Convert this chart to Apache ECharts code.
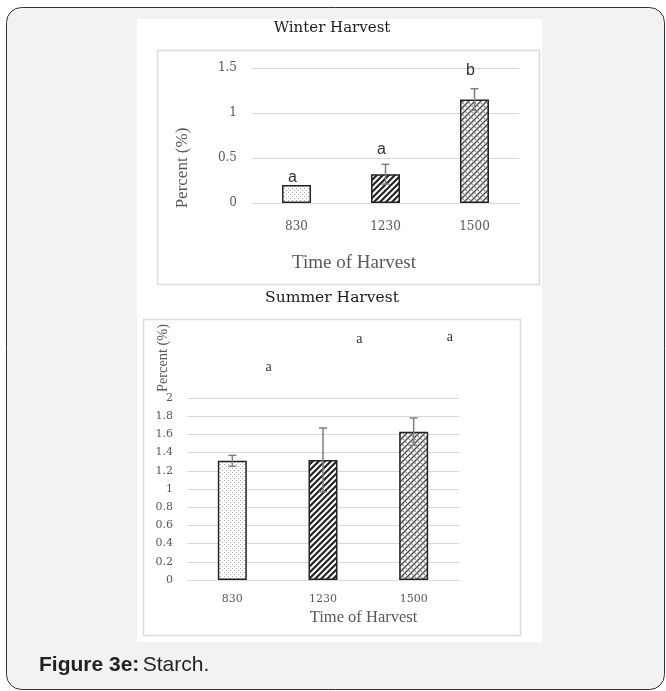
<!DOCTYPE html>
<html>
<head>
<meta charset="utf-8">
<script src="https://cdn.jsdelivr.net/npm/echarts@6/dist/echarts.min.js"></script>
<style>
html,body{margin:0;padding:0;background:#fff;}
#c{width:666px;height:691px;}
</style>
</head>
<body>
<div id="c"></div>
<script>
// ---- data ----
const categories = ['830', '1230', '1500'];
const winterValues = [0.20, 0.32, 1.15];
const winterErrors = [0, 0.11, 0.12];
const winterLetters = ['a', 'a', 'b'];
const winterLetterY = [0.28, 0.59, 1.47];
const winterTicks = [0, 0.5, 1, 1.5];

const summerValues = [1.31, 1.32, 1.63];
const summerErrors = [0.06, 0.35, 0.15];
const summerLetters = ['a', 'a', 'a'];
const summerLetterY = [2.34, 2.65, 2.67];
const summerTicks = [0, 0.2, 0.4, 0.6, 0.8, 1, 1.2, 1.4, 1.6, 1.8, 2];

// ---- patterns ----
function makeCanvas(s) { const c = document.createElement('canvas'); c.width = s; c.height = s; return c; }
function dotPattern() {
  const c = makeCanvas(4), g = c.getContext('2d');
  g.fillStyle = '#fff'; g.fillRect(0, 0, 4, 4);
  g.fillStyle = '#a8a8a8'; g.fillRect(0, 0, 1, 1); g.fillRect(2, 2, 1, 1);
  return c;
}
function hatchPattern() {
  const s = 6, c = makeCanvas(s), g = c.getContext('2d');
  g.fillStyle = '#fff'; g.fillRect(0, 0, s, s);
  g.strokeStyle = '#1e1e1e'; g.lineWidth = 2;
  for (const k of [0, s, 2 * s]) { g.beginPath(); g.moveTo(k - s - 1, s + 1); g.lineTo(k + 1, -1); g.stroke(); }
  return c;
}
function weavePattern() {
  const s = 6, c = makeCanvas(s), g = c.getContext('2d');
  g.fillStyle = '#fff'; g.fillRect(0, 0, s, s);
  g.strokeStyle = '#4a4a4a'; g.lineWidth = 1.4;
  for (const k of [0, s, 2 * s]) { g.beginPath(); g.moveTo(k - s - 1, s + 1); g.lineTo(k + 1, -1); g.stroke(); }
  g.strokeStyle = '#8a8a8a'; g.lineWidth = 1.1;
  g.beginPath(); g.moveTo(0, 0); g.lineTo(2, 2); g.stroke();
  g.beginPath(); g.moveTo(3, 3); g.lineTo(5, 5); g.stroke();
  return c;
}
const patterns = [dotPattern(), hatchPattern(), weavePattern()];

const serif = '"Liberation Serif", "DejaVu Serif", serif';
const wideSerif = '"DejaVu Serif", "Liberation Serif", serif';
const sans = '"Liberation Sans", Arial, sans-serif';
const gray = '#595959';

function barData(vals) {
  return vals.map((v, i) => ({
    value: v,
    itemStyle: { color: { image: patterns[i], repeat: 'repeat' }, borderColor: '#222', borderWidth: 1.5 }
  }));
}
function errData(vals, errs) { return vals.map((v, i) => [i, v, errs[i]]); }
function letterData(ys) { return ys.map((y, i) => [i, y]); }

function errRender(params, api) {
  const i = api.value(0), v = api.value(1), e = api.value(2);
  if (!e) return null;
  const t = api.coord([i, v + e]), b = api.coord([i, v - e]);
  const w = 4, st = { stroke: '#7f7f7f', lineWidth: 1.5 };
  return { type: 'group', children: [
    { type: 'line', shape: { x1: t[0], y1: t[1], x2: b[0], y2: b[1] }, style: st },
    { type: 'line', shape: { x1: t[0] - w, y1: t[1], x2: t[0] + w, y2: t[1] }, style: st },
    { type: 'line', shape: { x1: b[0] - w, y1: b[1], x2: b[0] + w, y2: b[1] }, style: st }
  ]};
}
function letterRender(letters, offsetFrac, font) {
  return function (params, api) {
    const i = api.value(0), y = api.value(1);
    const p = api.coord([i, y]);
    const bw = api.size([1, 0])[0];
    return { type: 'text', x: p[0] + bw * offsetFrac, y: p[1],
      style: { text: letters[i], font: font, fill: '#333', align: 'center', verticalAlign: 'middle' } };
  };
}

function yAxisCfg(gridIndex, ticks, fontSize, margin) {
  return {
    gridIndex, type: 'value', min: ticks[0], max: ticks[ticks.length - 1], interval: ticks[1] - ticks[0],
    axisLine: { show: false }, axisTick: { show: false },
    axisLabel: { color: gray, fontFamily: wideSerif, fontSize, margin },
    splitLine: { lineStyle: { color: '#d9d9d9', width: 1 } }
  };
}
function xAxisCfg(gridIndex, fontSize, margin) {
  return {
    gridIndex, type: 'category', data: categories,
    axisLine: { lineStyle: { color: '#d9d9d9' } }, axisTick: { show: false },
    axisLabel: { color: gray, fontFamily: wideSerif, fontSize, margin }
  };
}

const chart = echarts.init(document.getElementById('c'));
chart.setOption({
  animation: false,
  backgroundColor: 'transparent',
  graphic: [
    { type: 'rect', z: -20, silent: true, shape: { x: 6.5, y: 7.5, width: 658, height: 682, r: 15 },
      style: { fill: '#f1f2f4', stroke: '#333', lineWidth: 1 } },
    { type: 'rect', z: -19, silent: true, shape: { x: 137, y: 19, width: 405, height: 623 }, style: { fill: '#fff' } },
    { type: 'rect', z: -18, silent: true, shape: { x: 157.5, y: 50.5, width: 382, height: 234 },
      style: { fill: '#fff', stroke: '#dcdcdc', lineWidth: 1.5 } },
    { type: 'rect', z: -18, silent: true, shape: { x: 143.5, y: 319.5, width: 377, height: 316 },
      style: { fill: '#fff', stroke: '#dcdcdc', lineWidth: 1.5 } },
    { type: 'text', x: 332, y: 28, style: { text: 'Winter Harvest', font: '15px ' + wideSerif, fill: '#1a1a1a', align: 'center', verticalAlign: 'middle' } },
    { type: 'text', x: 332, y: 298, style: { text: 'Summer Harvest', font: '15.5px ' + wideSerif, fill: '#1a1a1a', align: 'center', verticalAlign: 'middle' } },
    { type: 'text', x: 183, y: 168, rotation: Math.PI / 2, style: { text: 'Percent (%)', font: '17px ' + serif, fill: gray, align: 'center', verticalAlign: 'middle' } },
    { type: 'text', x: 163, y: 358, rotation: Math.PI / 2, style: { text: 'Percent (%)', font: '14.3px ' + serif, fill: gray, align: 'center', verticalAlign: 'middle' } },
    { type: 'text', x: 354, y: 263, style: { text: 'Time of Harvest', font: '19px ' + serif, fill: gray, align: 'center', verticalAlign: 'middle' } },
    { type: 'text', x: 363.5, y: 618, style: { text: 'Time of Harvest', font: '16.5px ' + serif, fill: gray, align: 'center', verticalAlign: 'middle' } },
    { type: 'text', x: 39, y: 665, style: {
        text: '{b|Figure 3e:} {n|Starch.}', verticalAlign: 'middle',
        rich: { b: { font: 'bold 21px ' + sans, fill: '#222' }, n: { font: '21px ' + sans, fill: '#222' } } } }
  ],
  grid: [
    { left: 252, right: 147, top: 68, height: 135 },
    { left: 187, right: 207, top: 398, height: 182 }
  ],
  xAxis: [xAxisCfg(0, 12, 18), xAxisCfg(1, 11, 14)],
  yAxis: [yAxisCfg(0, winterTicks, 12, 15), yAxisCfg(1, summerTicks, 11, 14)],
  series: [
    { type: 'bar', xAxisIndex: 0, yAxisIndex: 0, barWidth: 29, data: barData(winterValues) },
    { type: 'custom', xAxisIndex: 0, yAxisIndex: 0, renderItem: errRender, data: errData(winterValues, winterErrors), z: 3 },
    { type: 'custom', xAxisIndex: 0, yAxisIndex: 0, clip: false,
      renderItem: letterRender(winterLetters, -0.045, '16px ' + sans), data: letterData(winterLetterY) },
    { type: 'bar', xAxisIndex: 1, yAxisIndex: 1, barWidth: 29, data: barData(summerValues) },
    { type: 'custom', xAxisIndex: 1, yAxisIndex: 1, renderItem: errRender, data: errData(summerValues, summerErrors), z: 3 },
    { type: 'custom', xAxisIndex: 1, yAxisIndex: 1, clip: false,
      renderItem: letterRender(summerLetters, 0.4, '14px ' + serif), data: letterData(summerLetterY) }
  ]
});
</script>
</body>
</html>
